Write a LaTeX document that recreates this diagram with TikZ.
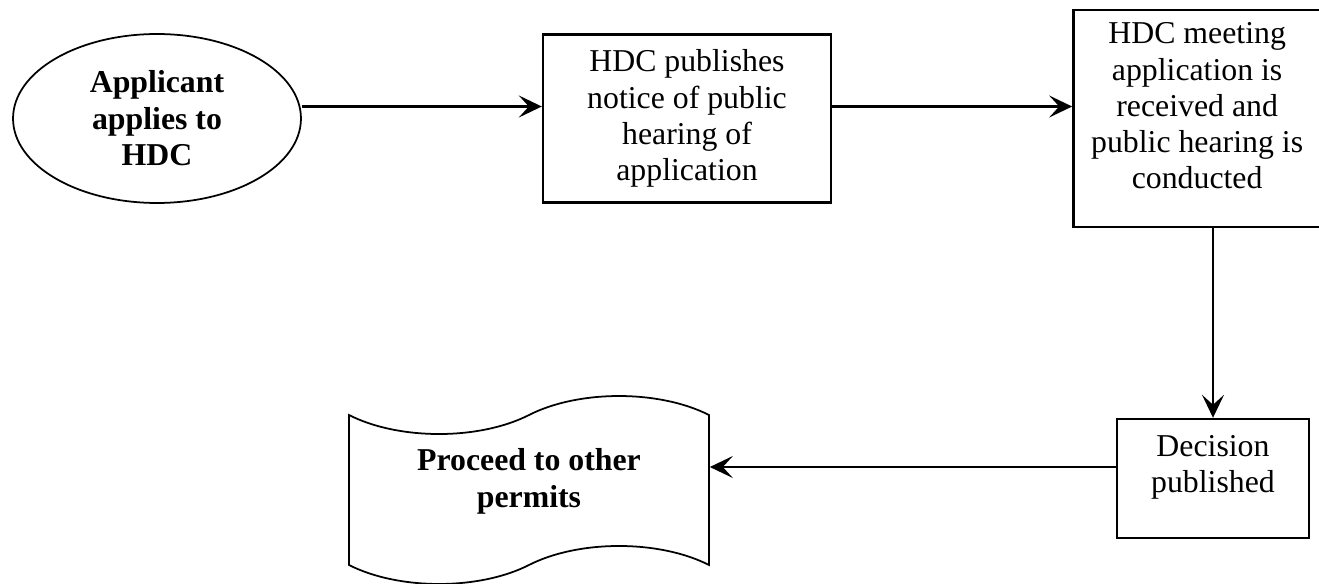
\documentclass[tikz,border=0pt]{standalone}
\usepackage{fontspec}
\setmainfont{Liberation Serif}
\usetikzlibrary{positioning,shapes.geometric,shapes.symbols,arrows.meta}

\begin{document}
\begin{tikzpicture}[x=0.02cm,y=-0.02cm,
    font=\fontsize{18.1}{20.6}\selectfont,
    box node/.style={draw,line width=1.4pt,inner sep=0pt,align=center},
    box text/.style={align=center,font=\fontsize{18.1}{20.6}\selectfont},
    start node/.style={ellipse,draw,line width=1pt,minimum width=5.76cm,minimum height=3.38cm,inner sep=0pt,align=center,font=\fontsize{18.1}{20.8}\selectfont\bfseries},
    end node/.style={tape,draw,line width=1pt,minimum width=7.2cm,minimum height=3.76cm,tape bend height=0.76cm,inner sep=0pt},
    flow/.style={line width=1.3pt,-{Stealth[length=0.46cm,width=0.44cm,inset=0.2cm]}}]
    \useasboundingbox (0,0) rectangle (1319,584);

    \node[start node] (ell) at (157,118.5) {Applicant\\applies to\\HDC};
    \node[box node,minimum width=5.76cm,minimum height=3.36cm] (pub) [right = 4.8cm of ell] {HDC publishes\\notice of public\\hearing of\\application};
    \node[box node,minimum width=4.95cm,minimum height=4.34cm] (meet) [right = 4.8cm of pub,
        label={[box text,yshift=0.25cm]center:{HDC meeting\\application is\\received and\\public hearing is\\conducted}}] {};
    \node[box node,minimum width=3.84cm,minimum height=2.38cm] (dec) at (1213,478.5)
        [label={[box text,yshift=0.22cm]center:{Decision\\published}}] {};
    \node[end node] (perm) at (529,490)
        [label={[box text,yshift=0.17cm,font=\fontsize{18.1}{20.8}\selectfont\bfseries]center:{Proceed to other\\permits}}] {};

    \coordinate (o1) at ([yshift=0.24cm]ell.east);
    \coordinate (o2) at ([yshift=0.24cm]pub.east);
    \coordinate (o4) at ([yshift=0.23cm]dec.west);

    \path[flow]
    (o1) edge (pub.west |- o1)
    (o2) edge (meet.west |- o2)
    (dec.north |- meet.south) edge (dec.north)
    (o4) edge (perm.east |- o4)
    ;
\end{tikzpicture}
\end{document}
